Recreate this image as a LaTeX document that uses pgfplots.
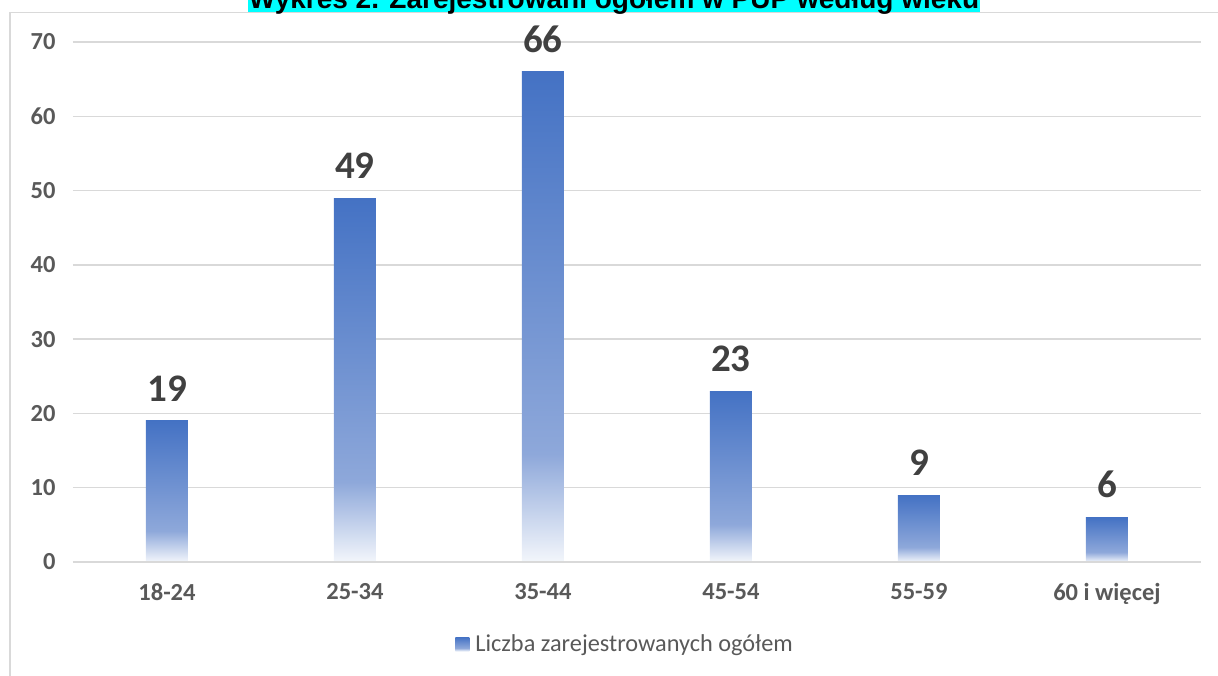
\documentclass[border=0pt]{standalone}
\usepackage{pgfplots}
\pgfplotsset{compat=1.18}
\usepackage{fontspec}
\setmainfont{Carlito}
\newfontfamily\titlefont{Liberation Sans}
\definecolor{gA}{HTML}{F3F6FB}
\definecolor{gB}{HTML}{8EA8DA}
\definecolor{gC}{HTML}{4472C4}
\definecolor{gridc}{HTML}{D9D9D9}
\definecolor{tickc}{HTML}{595959}
\definecolor{labc}{HTML}{404040}
\definecolor{titlebg}{HTML}{00FFFF}
\pgfdeclareverticalshading{barshade}{100bp}{color(0bp)=(gA); color(25bp)=(gA); color(36bp)=(gB); color(75bp)=(gC); color(100bp)=(gC)}
\begin{document}
\begin{tikzpicture}[x=1pt,y=1pt]
\useasboundingbox (0,0) rectangle (1218,675);
\draw[gridc, line width=1.3pt] (10,-10) -- (10,662.5) -- (1240,662.5);
\fill[titlebg] (248,663.3) rectangle (980,700);
\node[anchor=base, font=\titlefont\bfseries\fontsize{28}{32}\selectfont, inner sep=0] at (614,666.5) {Wykres 2. Zarejestrowani ogółem w PUP według wieku};
\begin{axis}[
  at={(73pt,113pt)}, anchor=south west, scale only axis,
  width=1128pt, height=520pt,
  xmin=-0.5, xmax=5.5, ymin=0, ymax=70,
  ytick={0,10,...,70}, xtick={0,...,5},
  xticklabels={18-24,25-34,35-44,45-54,55-59,60 i więcej},
  axis line style={draw=none},
  ymajorgrids, grid style={gridc, line width=1.3pt},
  major tick length=0pt,
  /pgf/number format/assume math mode=true,
  tick label style={font=\bfseries\fontsize{24.5}{28}\selectfont, text=tickc},
  xticklabel style={yshift=-18pt},
  yticklabel style={xshift=-14pt},
  legend style={at={(0.489,-0.158)}, anchor=center, draw=none, fill=none,
    font=\fontsize{24.3}{28}\selectfont, text=tickc},
  legend image code/.code={\path (-1pt,0pt) (18pt,0pt);\shade[shading=barshade] (0pt,-7pt) rectangle (14pt,7pt);},
  clip=false,
  barstyle/.style={ybar, bar width=42pt, bar shift=0pt, draw=none, shade, shading=barshade,
    nodes near coords,
    nodes near coords style={font=\bfseries\fontsize{39}{44}\selectfont, text=labc, anchor=south, inner sep=0pt, yshift=19pt}},
]
\addplot[barstyle] coordinates {(0,19)};
\addlegendentry{Liczba zarejestrowanych ogółem}
\addplot[barstyle, forget plot] coordinates {(1,49)};
\addplot[barstyle, forget plot] coordinates {(2,66)};
\addplot[barstyle, forget plot] coordinates {(3,23)};
\addplot[barstyle, forget plot] coordinates {(4,9)};
\addplot[barstyle, forget plot] coordinates {(5,6)};
\draw[gridc, line width=1.5pt] (axis cs:-0.5,0) -- (axis cs:5.5,0);
\end{axis}
\end{tikzpicture}
\end{document}
